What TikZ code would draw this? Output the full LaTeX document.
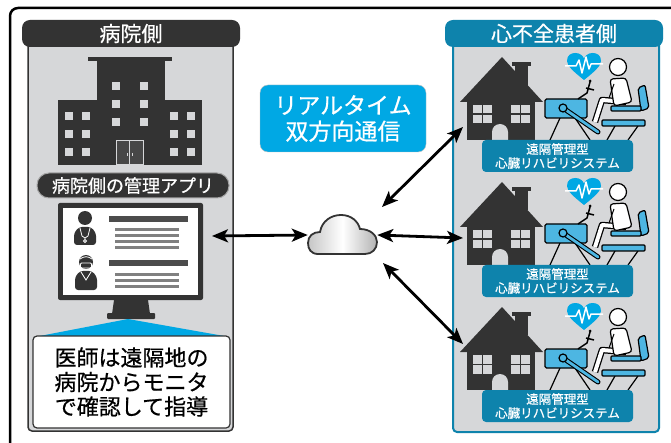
\documentclass[tikz,border=0pt]{standalone}
\usepackage{fontspec}
\setmainfont{Noto Sans CJK JP}
\newfontfamily\heavy{Noto Sans CJK JP}[FakeBold=0.6]
\usetikzlibrary{arrows.meta}
\definecolor{panelgray}{HTML}{D6D7D9}
\definecolor{ink}{HTML}{333333}
\definecolor{sky}{HTML}{00A8E4}
\definecolor{seablue}{HTML}{0E83AC}
\definecolor{lightblue}{HTML}{4DB6E2}
\tikzset{
  head/.style={rounded corners=8pt, minimum width=218pt, minimum height=27pt, text=white,
    font=\heavy\fontsize{21}{22}\selectfont},
  sysbox/.style={fill=seablue, text=white, rounded corners=4pt, minimum width=151pt,
    minimum height=32pt, inner sep=0pt, align=center, font=\heavy\fontsize{12.5}{14}\selectfont},
  link/.style={{Stealth[length=16pt,width=13pt,inset=4pt]}-{Stealth[length=16pt,width=13pt,inset=4pt]},
    line width=2.8pt},
  outline/.style={line width=1.2pt, draw=black}
}
\begin{document}
\begin{tikzpicture}[x=1pt,y=-1pt]
\useasboundingbox (0,0) rectangle (671,443);
\fill[white] (0,0) rectangle (671,443);
\draw[line width=2.5pt, rounded corners=8pt] (10,8) rectangle (700,470);
% panels
\draw[ink, line width=1.5pt, fill=panelgray, rounded corners=4pt] (28,40) rectangle (233,431);
\draw[seablue, line width=2pt, fill=panelgray, rounded corners=4pt] (453,40) rectangle (659,432);
\node[head, fill=ink] (hosp) at (131,33.5) {病院側};
\node[head, fill=seablue] (home) at (554,33.5) {心不全患者側};
% hospital building
\fill[ink] (88,57) rectangle (172,61);
\fill[ink] (97,60) rectangle (165,165);
\fill[ink] (58,100) rectangle (202,165);
\foreach \x in {112,140}
  \foreach \y in {82,100,118}
    \fill[panelgray] (\x,\y) rectangle +(8,8);
\foreach \x in {65,82,170,187}
  \foreach \y in {112,130,148}
    \fill[panelgray] (\x,\y) rectangle +(8,8);
\draw[panelgray, fill=ink!90, line width=1pt] (116,141) rectangle (143,165);
\draw[panelgray, line width=0.6pt] (129.5,141) -- (129.5,165);
\fill[panelgray] (126.5,153) rectangle +(1,3);
\fill[panelgray] (131.5,153) rectangle +(1,3);
\node[fill=ink, draw=gray!70, line width=1pt, rounded corners=12pt, minimum width=192pt,
  minimum height=25pt, text=white, font=\heavy\fontsize{18}{20}\selectfont] (app) at (133,185.5) {病院側の管理アプリ};
% monitor
\node[fill=ink, rounded corners=2pt, minimum width=145pt, minimum height=97pt, inner sep=0pt] (mon) at (130.5,251.5) {};
\fill[white] (63,208) rectangle (198,295);
\fill[ink] (114,300) -- (148,300) -- (150,314) -- (112,314) -- cycle;
\fill[ink, rounded corners=1pt] (107,313) rectangle (155,319);
% doctor and nurse
\fill[ink] (85,218) circle[radius=7];
\fill[ink, rounded corners=3pt] (74,245) -- (74,233) -- (79,227) -- (91,227) -- (96,233) -- (96,245) -- cycle;
\draw[white, line width=0.8pt] (80,228) -- (82,236) -- (85,238) -- (88,236) -- (90,228);
\draw[white, line width=0.8pt] (85,238) -- (85,239.5) (85,241) circle[radius=1.5];
\fill[ink] (86,262) circle[radius=7];
\draw[white, line width=0.8pt] (80,259) .. controls (84,256) and (88,256) .. (92,259);
\draw[white, line width=0.8pt, rounded corners=1pt] (80.5,263) rectangle (91.5,268);
\fill[ink, rounded corners=3pt] (75,290) -- (75,277) -- (80,271) -- (92,271) -- (97,277) -- (97,290) -- cycle;
\draw[white, line width=0.8pt] (81,272) -- (86,280) -- (91,272);
\foreach \y in {216,260}
  \fill[gray!60!black] (109,\y) rectangle (188,\y+6);
\foreach \y in {228,234,240,246,273,279,285}
  \fill[gray] (115,\y) rectangle (179,\y+3);
% callout
\fill[sky] (128,319) -- (37,336.5) -- (227,336.5) -- cycle;
\node[draw=ink, line width=1.2pt, fill=white, rounded corners=4pt, minimum width=197pt, minimum height=92pt,
  align=center, font=\heavy\fontsize{22}{24.5}\selectfont] (note) at (131.5,382) {医師は遠隔地の\\病院からモニタ\\で確認して指導};
% realtime label
\node[fill=sky, draw=gray!50, rounded corners=8pt, minimum width=166pt, minimum height=67pt, text=white,
  align=center, font=\heavy\fontsize{23}{26}\selectfont] (rt) at (343,118.5) {リアルタイム\\双方向通信};
% cloud
\node[minimum width=69pt, minimum height=39pt, inner sep=0pt] (cloud) at (342.5,235) {};
\shade[left color=gray!45, right color=gray!60, middle color=white, draw=ink, line width=1.8pt]
  (318,254) .. controls (311,254) and (308,249) .. (308,243)
  .. controls (308,236) and (313,232) .. (320,232)
  .. controls (322,221) and (331,215) .. (341,215)
  .. controls (351,215) and (358,221) .. (360,229)
  .. controls (370,229) and (377,235) .. (377,242)
  .. controls (377,249) and (372,254) .. (365,254) -- cycle;
\coordinate (monR) at (212,236);
\coordinate (cloudNE) at (382,207);
\coordinate (cloudSE) at (383,263);
% patient homes
\foreach \n/\dy/\ty in {1/0/127,2/125/113,3/250/94}
{
\begin{scope}[shift={(0,\dy)}]
  \fill[ink] (460,102) -- (502,57) -- (543,102) -- cycle;
  \fill[ink] (515,62) rectangle (528,85);
  \fill[ink] (512,62) rectangle (531,66);
  \fill[ink] (467,100) rectangle (535,140);
  \foreach \wx in {473,511}
    \foreach \px/\py in {0/0,10/0,0/10,10/10}
      \fill[panelgray] (\wx+\px,105+\py) rectangle +(8.5,8.5);
  \fill[panelgray] (492,140) -- (492,132) arc[start angle=180, end angle=360, radius=8] -- (508,140) -- cycle;
  \coordinate (house\n) at (463,\ty);
  % bike
  \draw[line width=1.2pt] (560,118) -- (550,140) (575,118) -- (590,140);
  \draw[outline, fill=lightblue, rounded corners=1.5pt] (545,99) rectangle (587,118);
  \draw[line width=5pt, line cap=round] (563,108) -- (598,132);
  \draw[line width=2.8pt, line cap=round, lightblue] (563,108) -- (598,132);
  \draw[outline, fill=lightblue] (563,108) circle[radius=4];
  \draw[line width=1.5pt] (578,99) -- (587,93) -- (590,82) (586,88) -- (594,90);
  \fill (590,81) circle[radius=1.5];
  % chair and patient
  \draw[line width=1.2pt] (615,126) -- (607,140) (638,126) -- (628,140);
  \draw[outline, fill=lightblue, rounded corners=1pt] (602,120) rectangle (645,126);
  \draw[outline, fill=lightblue, rounded corners=2pt] (638,88) -- (645,85) -- (649,108) -- (641,111) -- cycle;
  \draw[outline, fill=lightblue, rounded corners=1pt] (611,106) rectangle (641,111);
  \draw[line width=6.5pt, line join=round] (626,102) -- (602,100) -- (595,122);
  \draw[white, line width=4pt, line join=round] (626,102) -- (602,100) -- (595,122);
  \draw[outline, fill=white, rounded corners=3pt] (610,79) -- (626,78) -- (632,102) -- (614,106) -- cycle;
  \draw[line width=1pt] (614,84) -- (609,98);
  \draw[outline, fill=white] (618,67) circle[radius=8.5];
  % heart
  \fill[sky] (584,80) .. controls (574,72) and (567,66) .. (567,61)
    .. controls (567,55) and (571,53) .. (575.5,53) .. controls (580,53) and (583,56) .. (584,58.5)
    .. controls (585,56) and (588,53) .. (592.5,53) .. controls (597,53) and (601,55) .. (601,61)
    .. controls (601,66) and (594,72) .. (584,80) -- cycle;
  \draw[white, line width=1.5pt, line join=round] (565,66) -- (576,66) -- (579,60) -- (582,73) -- (586,57) -- (589,69) -- (591,64) -- (603,64);
  \node[sysbox] (sys\n) at (557.5,156) {遠隔管理型\\心臓リハビリシステム};
\end{scope}
}
% connections
\draw[link] (monR) -- (cloud.west);
\draw[link] (cloud.east) -- (house2);
\draw[link] (cloudNE) -- (house1);
\draw[link] (cloudSE) -- (house3);
\end{tikzpicture}
\end{document}
